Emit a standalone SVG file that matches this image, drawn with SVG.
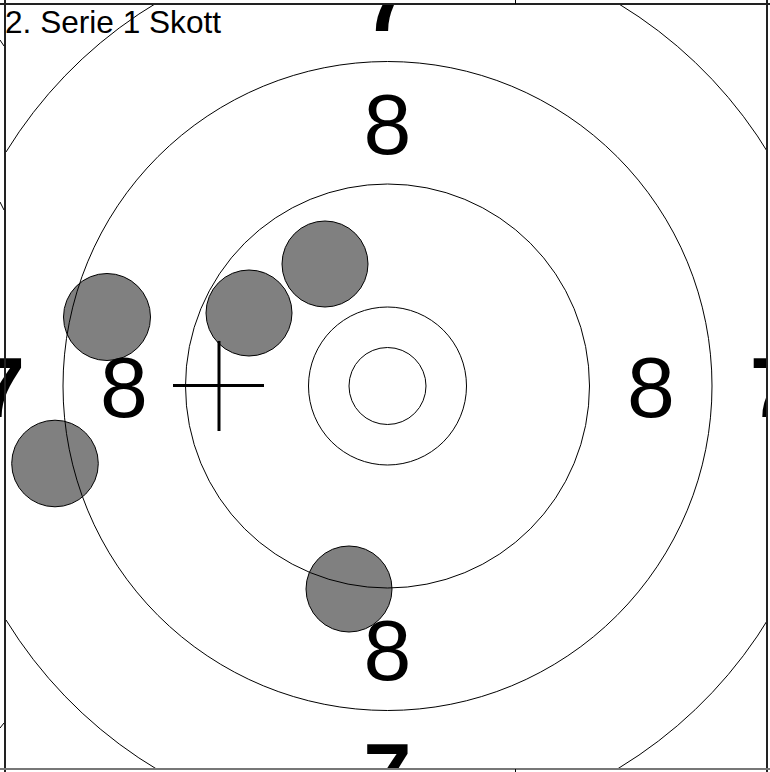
<svg xmlns="http://www.w3.org/2000/svg" width="770" height="772" viewBox="0 0 770 772">
<style>
.ring{fill:none;stroke:#000;stroke-width:1}
.shot{fill:#808080;stroke:#000;stroke-width:1}
.n8{font-family:"Liberation Sans",Arial,sans-serif;font-size:86px;text-anchor:middle;fill:#000}
.n7{font-family:"Liberation Sans",Arial,sans-serif;font-size:86px;font-weight:bold;text-anchor:middle;fill:#000}
.title{font-family:"Liberation Sans",Arial,sans-serif;font-size:31.6px;fill:#000}
.frame{stroke:#222;stroke-width:2}
</style>
<defs>
<clipPath id="area"><rect x="0" y="5" width="766" height="763"/></clipPath>
</defs>
<rect width="770" height="772" fill="#fff"/>
<g clip-path="url(#area)">
<g id="shots">
<circle class="shot" cx="325" cy="264" r="43"/>
<circle class="shot" cx="249" cy="313" r="43"/>
<circle class="shot" cx="107" cy="317" r="43.5"/>
<circle class="shot" cx="55" cy="463.5" r="43.3"/>
<circle class="shot" cx="349" cy="589" r="43"/>
</g>
<g id="rings">
<circle class="ring" cx="387.5" cy="386" r="38.5"/>
<circle class="ring" cx="387.5" cy="386" r="79"/>
<circle class="ring" cx="387.5" cy="386" r="202"/>
<circle class="ring" cx="387.5" cy="386" r="324.5"/>
<path class="ring" d="M 6 152 A 447 447 0 1 1 6 620"/>
</g>
<g id="labels">
<text class="n8" x="387.5" y="153.5">8</text>
<text class="n8" x="387.5" y="680">8</text>
<text class="n8" x="124" y="417">8</text>
<text class="n8" x="651" y="417">8</text>
<text class="n7" x="387.5" y="31">7</text>
<text class="n7" x="387.5" y="803">7</text>
<text class="n7" x="1" y="417">7</text>
<text class="n7" x="774" y="417">7</text>
</g>
<g id="cross">
<line x1="173" y1="385.5" x2="264" y2="385.5" stroke="#000" stroke-width="3"/>
<line x1="219" y1="341" x2="219" y2="431" stroke="#000" stroke-width="3"/>
</g>
</g>
<g id="frame">
<line class="frame" x1="0" y1="4" x2="770" y2="4"/>
<line class="frame" x1="5" y1="0" x2="5" y2="772"/>
<line class="frame" x1="767" y1="0" x2="767" y2="772"/>
<line x1="0" y1="769" x2="770" y2="769" stroke="#777" stroke-width="2"/>
<line x1="515.5" y1="0" x2="515.5" y2="4" stroke="#000" stroke-width="1"/>
<line x1="515.5" y1="769" x2="515.5" y2="772" stroke="#000" stroke-width="1"/>
</g>
<g id="edge-marks" stroke="#000" stroke-width="1" fill="none">
<line x1="0" y1="40" x2="4" y2="46"/>
<line x1="0" y1="202" x2="4" y2="210"/>
<line x1="0" y1="728" x2="4" y2="723"/>
</g>
<text id="title" class="title" x="5" y="33">2. Serie 1 Skott</text>
</svg>
